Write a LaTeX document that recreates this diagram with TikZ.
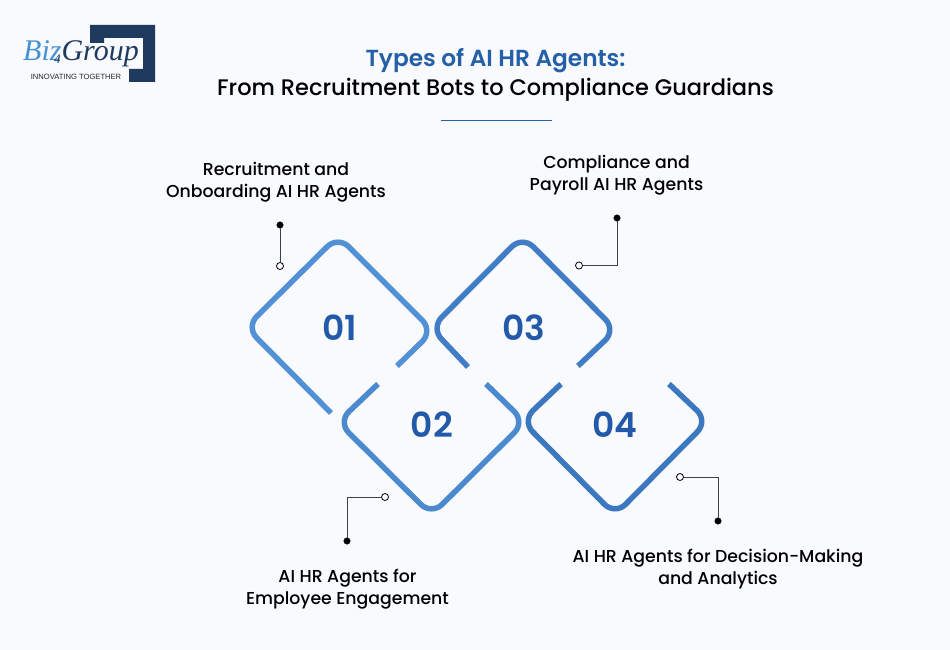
\documentclass[tikz,border=0pt]{standalone}
\usepackage{fontspec}
\setmainfont{Poppins}[UprightFont=* Medium]
\newfontfamily\numfont{Poppins}[UprightFont=* SemiBold]
\newfontfamily\logofont{Liberation Serif}
\newfontfamily\tagfont{Liberation Sans}
\definecolor{PageBlue}{RGB}{248,250,253}
\definecolor{TitleBlue}{RGB}{36,96,168}
\definecolor{NumberBlue}{RGB}{34,89,168}
\definecolor{LogoNavy}{RGB}{31,58,95}
\definecolor{LogoBlue}{RGB}{70,145,210}
\definecolor{LineOne}{RGB}{82,145,214}
\definecolor{LineTwo}{RGB}{76,138,208}
\definecolor{LineThree}{RGB}{64,125,198}
\definecolor{LineFour}{RGB}{60,120,192}
\tikzset{
  agentline/.style={line width=5.5pt, rounded corners=15pt},
  agentnum/.style={font=\numfont\fontsize{34.5}{36}\selectfont, text=NumberBlue},
  agentlabel/.style={font=\fontsize{17.3}{22}\selectfont, text=black},
  fulldot/.style={circle, draw=black, fill=black, inner sep=0pt, minimum size=6.5pt},
  opendot/.style={circle, draw=black, fill=white, line width=0.8pt, inner sep=0pt, minimum size=7pt},
  leader/.style={draw=black!75, line width=1pt}
}
\begin{document}
\begin{tikzpicture}[x=1pt, y=-1pt]
      \useasboundingbox (0, 0) rectangle (950, 650);
      \fill[PageBlue] (0, 0) rectangle (950, 650);

      \fill[LogoNavy] (90, 25) -- (155, 25) -- (155, 82) -- (129, 82) -- (129, 69) -- (143, 69)
        -- (143, 38) -- (104, 38) -- (104, 43) -- (90, 43) -- cycle;
      \node (logo) [inner sep=0pt, font=\logofont\itshape\fontsize{30}{30}\selectfont] at (81, 54)
        {\color{LogoBlue}Biz\color{LogoNavy}\llap{\raisebox{-3pt}{\fontsize{13}{13}\selectfont 4}\kern1pt}Group};
      \node (tagline) [inner sep=0pt, font=\tagfont\fontsize{7.6}{9}\selectfont, text=black!85] at (76, 76.5)
        {INNOVATING TOGETHER};

      \node (title) [inner sep=0pt, font=\fontsize{22.5}{29}\selectfont] at (495.5, 75) {
        \begin{tabular}{c}
          \color{TitleBlue}
          \numfont\fontsize{23.25}{29}\selectfont Types of AI HR Agents: \\
          \color{black}
          From Recruitment Bots to Compliance Guardians
        \end{tabular}
      };
      \coordinate (ruleL) at (441, 120.5);
      \coordinate (ruleR) at (552, 120.5);
      \draw[TitleBlue, line width=1.8pt] (ruleL) -- (ruleR);

      \draw[agentline, LineOne] (397, 366) -- (433, 331) -- (338, 236) -- (246, 327) -- (331, 413);
      \draw[agentline, LineThree] (578, 366) -- (616, 330) -- (522.5, 236) -- (431, 328) -- (468, 367);
      \draw[agentline, LineTwo] (378, 384) -- (338, 422) -- (431.5, 515) -- (525, 422) -- (486, 384);
      \draw[agentline, LineFour] (561, 384) -- (522, 421) -- (615, 515) -- (708, 421) -- (669, 384);

      \node (one) [agentnum] at (339.5, 328) {01};
      \node (two) [agentnum] at (432, 425) {02};
      \node (three) [agentnum] at (523.5, 328) {03};
      \node (four) [agentnum] at (615, 425) {04};

      \node (recruit) [agentlabel, inner sep=0pt] at (276, 182) {
        \begin{tabular}{c}
          Recruitment and \\
          Onboarding AI HR Agents
        \end{tabular}
      };
      \node (comply) [agentlabel, inner sep=0pt] at (616.5, 175.5) {
        \begin{tabular}{c}
          Compliance and \\
          Payroll AI HR Agents
        \end{tabular}
      };
      \node (engage) [agentlabel, inner sep=0pt] at (347.5, 589) {
        \begin{tabular}{c}
          AI HR Agents for \\
          Employee Engagement
        \end{tabular}
      };
      \node (decide) [agentlabel, inner sep=0pt] at (718, 569) {
        \begin{tabular}{c}
          AI HR Agents for Decision-Making \\
          and Analytics
        \end{tabular}
      };

      \node (dotA) [fulldot] at (280, 225) {};
      \node (ringA) [opendot] at (280, 266) {};
      \node (dotB) [fulldot] at (347, 541) {};
      \node (ringB) [opendot] at (385, 497) {};
      \node (dotC) [fulldot] at (617, 218) {};
      \node (ringC) [opendot] at (579, 265.5) {};
      \node (dotD) [fulldot] at (718, 521) {};
      \node (ringD) [opendot] at (680, 477) {};

      \draw[leader] (dotA) to (ringA);
      \draw[leader] (dotB) |- (ringB);
      \draw[leader] (dotC) |- (ringC);
      \draw[leader] (dotD) |- (ringD);
    \end{tikzpicture}
\end{document}
